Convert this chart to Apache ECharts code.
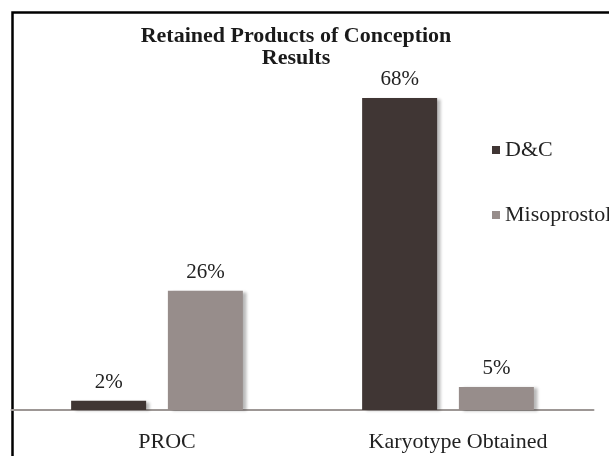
<!DOCTYPE html>
<html>
<head>
<meta charset="utf-8">
<script src="https://cdn.jsdelivr.net/npm/echarts@6/dist/echarts.min.js"></script>
<style>html,body{margin:0;padding:0;background:#fff;}#c{width:609px;height:456px;}</style>
</head>
<body>
<div id="c"></div>
<script>
const categories = ['PROC', 'Karyotype Obtained'];
const dcValues = [2, 68];
const misoValues = [26, 5];
const seriesNames = ['D&C', 'Misoprostol'];
const titleText = 'Retained Products of Conception\nResults';

const FONT = "'Liberation Serif','Times New Roman',serif";
const chart = echarts.init(document.getElementById('c'));
const shadow = {shadowColor: 'rgba(0,0,0,0.28)', shadowBlur: 3, shadowOffsetX: 4, shadowOffsetY: 1};
const labelCfg = {show: true, position: 'top', distance: 8, formatter: '{c}%', fontFamily: FONT, fontSize: 21, color: '#222'};
chart.setOption({
  animation: false,
  backgroundColor: '#fff',
  legend: {
    orient: 'vertical',
    left: 487,
    top: 134,
    itemGap: 43,
    itemWidth: 8,
    itemHeight: 8,
    icon: 'rect',
    textStyle: {fontFamily: FONT, fontSize: 22, color: '#222'},
    data: seriesNames
  },
  grid: {left: 11.5, right: 15.5, top: 42.8, bottom: 46},
  xAxis: {
    type: 'category',
    data: categories,
    axisLine: {lineStyle: {color: '#9d9795', width: 2}},
    axisTick: {show: false},
    axisLabel: {fontFamily: FONT, fontSize: 22, color: '#222', margin: 21, padding: [0, 0, 0, 20]}
  },
  yAxis: {type: 'value', min: 0, max: 80, show: false, splitLine: {show: false}},
  graphic: [{
    type: 'rect', left: 10, top: 10, silent: true,
    shape: {x: 0, y: 0, width: 700, height: 500},
    style: {fill: null, stroke: '#000', lineWidth: 2.5}
  }, {
    type: 'text', x: 296, y: 25, silent: true,
    style: {text: titleText, align: 'center', verticalAlign: 'top',
      fontFamily: FONT, fontWeight: 'bold', fontSize: 22, lineHeight: 22, fill: '#1a1a1a'}
  }],
  series: [
    {name: seriesNames[0], type: 'bar', data: dcValues, barWidth: 75, barGap: '29%',
     itemStyle: Object.assign({color: '#403634'}, shadow), label: labelCfg},
    {name: seriesNames[1], type: 'bar', data: misoValues, barWidth: 75,
     itemStyle: Object.assign({color: '#978d8b'}, shadow), label: labelCfg}
  ]
});
</script>
</body>
</html>
